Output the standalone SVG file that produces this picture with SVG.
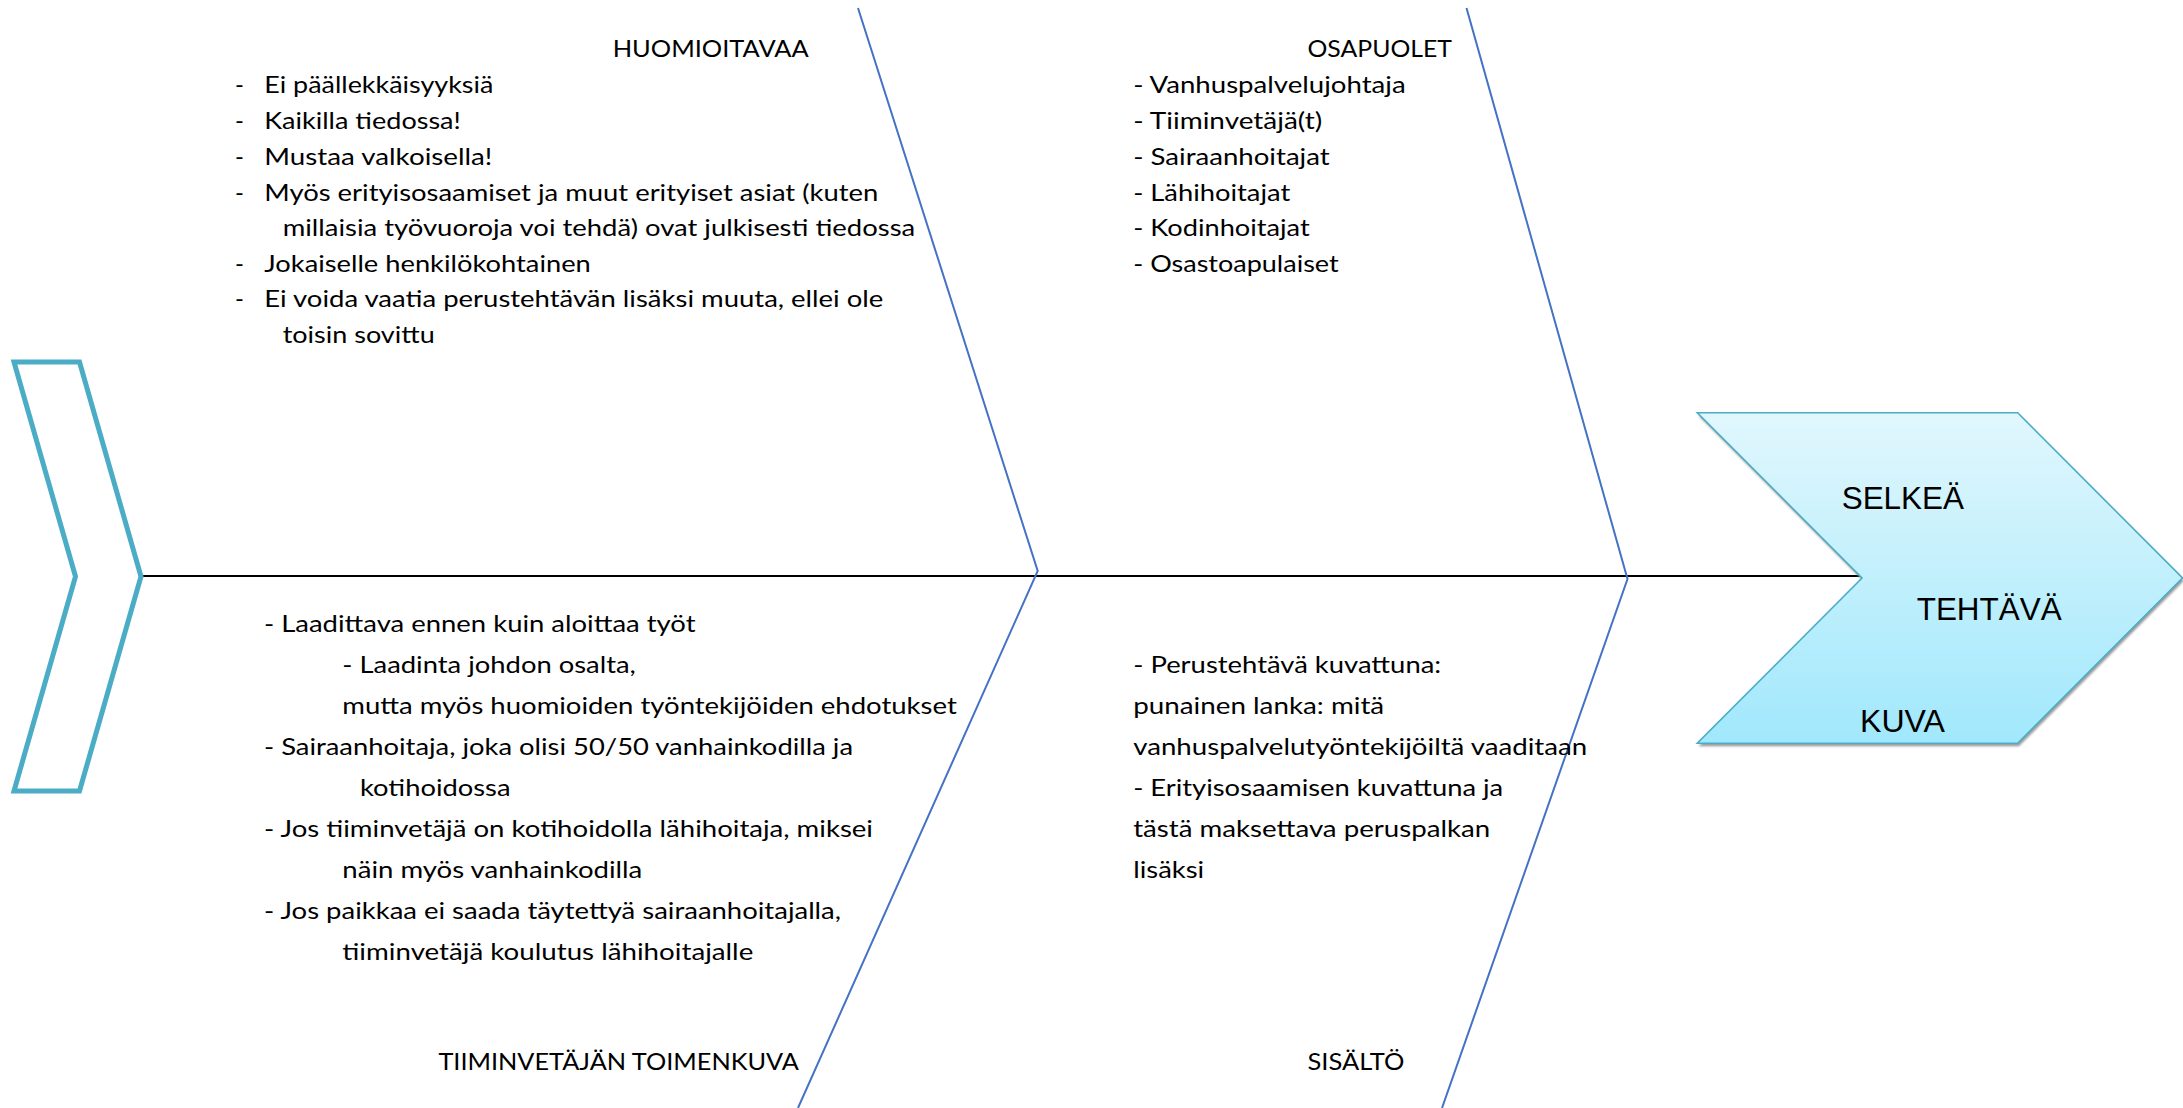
<svg xmlns="http://www.w3.org/2000/svg" width="2183" height="1108" viewBox="0 0 2183 1108">
<defs>
<linearGradient id="headFill" x1="0" y1="0" x2="0" y2="1">
<stop offset="0" stop-color="#E1F7FD"/>
<stop offset="1" stop-color="#A1E8FC"/>
</linearGradient>
<filter id="soft" x="-5%" y="-5%" width="110%" height="110%">
<feGaussianBlur stdDeviation="0.8"/>
</filter>
</defs>
<style>
.t{font-family:Lato,"Open Sans","Liberation Sans",sans-serif;font-size:24px;fill:#000}
.h{font-family:"Liberation Sans",Arial,sans-serif;font-size:31.5px;fill:#000}
.bone{fill:none;stroke:#4472C4;stroke-width:2;stroke-linejoin:miter}
.spine{stroke:#000;stroke-width:2.2}
</style>
<rect width="2183" height="1108" fill="#fff"/>

<g id="connectors">
<line class="spine" x1="142" y1="576" x2="1863" y2="576"/>
<polyline class="bone" points="858,8 1037.7,571 798,1108"/>
<polyline class="bone" points="1466.5,8 1627.5,579 1442,1108"/>
</g>

<g id="tail">
<polygon points="14,362 79.5,362 141,576.5 79.5,791 14,791 75.5,576.5" fill="none" stroke="#4BACC6" stroke-width="5" stroke-linejoin="miter"/>
</g>

<g id="head">
<polygon points="1697.3,412.7 2017.7,412.7 2182.5,578 2017.7,743.3 1697.3,743.3 1862,578" fill="#8a8a8a" opacity="0.85" transform="translate(1.2,3)" filter="url(#soft)"/>
<polygon points="1697.3,412.7 2017.7,412.7 2182.5,578 2017.7,743.3 1697.3,743.3 1862,578" fill="url(#headFill)" stroke="#4BACC6" stroke-width="1.6"/>
<text class="h" x="1841.7" y="509" textLength="122.3" lengthAdjust="spacingAndGlyphs">SELKEÄ</text>
<text class="h" x="1916.7" y="620" textLength="145" lengthAdjust="spacingAndGlyphs">TEHTÄVÄ</text>
<text class="h" x="1860" y="731.5" textLength="85" lengthAdjust="spacingAndGlyphs">KUVA</text>
</g>

<g id="huomioitavaa">
<text class="t" x="612.7" y="57" textLength="196" lengthAdjust="spacingAndGlyphs">HUOMIOITAVAA</text>
<text class="t" x="235" y="93">-</text>
<text class="t" x="264.3" y="93" textLength="229" lengthAdjust="spacingAndGlyphs">Ei päällekkäisyyksiä</text>
<text class="t" x="235" y="129">-</text>
<text class="t" x="264.3" y="129" textLength="196.5" lengthAdjust="spacingAndGlyphs">Kaikilla tiedossa!</text>
<text class="t" x="235" y="165">-</text>
<text class="t" x="264.3" y="165" textLength="228" lengthAdjust="spacingAndGlyphs">Mustaa valkoisella!</text>
<text class="t" x="235" y="201">-</text>
<text class="t" x="264.3" y="201" textLength="614" lengthAdjust="spacingAndGlyphs">Myös erityisosaamiset ja muut erityiset asiat (kuten</text>
<text class="t" x="282.7" y="236" textLength="632.5" lengthAdjust="spacingAndGlyphs">millaisia työvuoroja voi tehdä) ovat julkisesti tiedossa</text>
<text class="t" x="235" y="272">-</text>
<text class="t" x="264.3" y="272" textLength="326.5" lengthAdjust="spacingAndGlyphs">Jokaiselle henkilökohtainen</text>
<text class="t" x="235" y="307">-</text>
<text class="t" x="264.3" y="307" textLength="619" lengthAdjust="spacingAndGlyphs">Ei voida vaatia perustehtävän lisäksi muuta, ellei ole</text>
<text class="t" x="282.7" y="343" textLength="152" lengthAdjust="spacingAndGlyphs">toisin sovittu</text>
</g>

<g id="osapuolet">
<text class="t" x="1307.5" y="57" textLength="144.5" lengthAdjust="spacingAndGlyphs">OSAPUOLET</text>
<text class="t" x="1133.2" y="93" textLength="272.5" lengthAdjust="spacingAndGlyphs">- Vanhuspalvelujohtaja</text>
<text class="t" x="1133.2" y="129" textLength="189" lengthAdjust="spacingAndGlyphs">- Tiiminvetäjä(t)</text>
<text class="t" x="1133.2" y="165" textLength="196.5" lengthAdjust="spacingAndGlyphs">- Sairaanhoitajat</text>
<text class="t" x="1133.2" y="201" textLength="157" lengthAdjust="spacingAndGlyphs">- Lähihoitajat</text>
<text class="t" x="1133.2" y="236" textLength="176.5" lengthAdjust="spacingAndGlyphs">- Kodinhoitajat</text>
<text class="t" x="1133.2" y="272" textLength="205.5" lengthAdjust="spacingAndGlyphs">- Osastoapulaiset</text>
</g>

<g id="toimenkuva">
<text class="t" x="264" y="632" textLength="431.5" lengthAdjust="spacingAndGlyphs">- Laadittava ennen kuin aloittaa työt</text>
<text class="t" x="342.3" y="673" textLength="293.5" lengthAdjust="spacingAndGlyphs">- Laadinta johdon osalta,</text>
<text class="t" x="342.3" y="714" textLength="614.5" lengthAdjust="spacingAndGlyphs">mutta myös huomioiden työntekijöiden ehdotukset</text>
<text class="t" x="264" y="755" textLength="589" lengthAdjust="spacingAndGlyphs">- Sairaanhoitaja, joka olisi 50/50 vanhainkodilla ja</text>
<text class="t" x="360" y="796" textLength="150.5" lengthAdjust="spacingAndGlyphs">kotihoidossa</text>
<text class="t" x="264" y="837" textLength="609" lengthAdjust="spacingAndGlyphs">- Jos tiiminvetäjä on kotihoidolla lähihoitaja, miksei</text>
<text class="t" x="342.3" y="878" textLength="300" lengthAdjust="spacingAndGlyphs">näin myös vanhainkodilla</text>
<text class="t" x="264" y="919" textLength="577" lengthAdjust="spacingAndGlyphs">- Jos paikkaa ei saada täytettyä sairaanhoitajalla,</text>
<text class="t" x="342.3" y="960" textLength="411" lengthAdjust="spacingAndGlyphs">tiiminvetäjä koulutus lähihoitajalle</text>
<text class="t" x="438.4" y="1070" textLength="360.5" lengthAdjust="spacingAndGlyphs">TIIMINVETÄJÄN TOIMENKUVA</text>
</g>

<g id="sisalto">
<text class="t" x="1133.2" y="673" textLength="308" lengthAdjust="spacingAndGlyphs">- Perustehtävä kuvattuna:</text>
<text class="t" x="1133.2" y="714" textLength="251" lengthAdjust="spacingAndGlyphs">punainen lanka: mitä</text>
<text class="t" x="1133.2" y="755" textLength="454" lengthAdjust="spacingAndGlyphs">vanhuspalvelutyöntekijöiltä vaaditaan</text>
<text class="t" x="1133.2" y="796" textLength="370" lengthAdjust="spacingAndGlyphs">- Erityisosaamisen kuvattuna ja</text>
<text class="t" x="1133.2" y="837" textLength="357" lengthAdjust="spacingAndGlyphs">tästä maksettava peruspalkan</text>
<text class="t" x="1133.2" y="878" textLength="71" lengthAdjust="spacingAndGlyphs">lisäksi</text>
<text class="t" x="1307.5" y="1070" textLength="97" lengthAdjust="spacingAndGlyphs">SISÄLTÖ</text>
</g>
</svg>
